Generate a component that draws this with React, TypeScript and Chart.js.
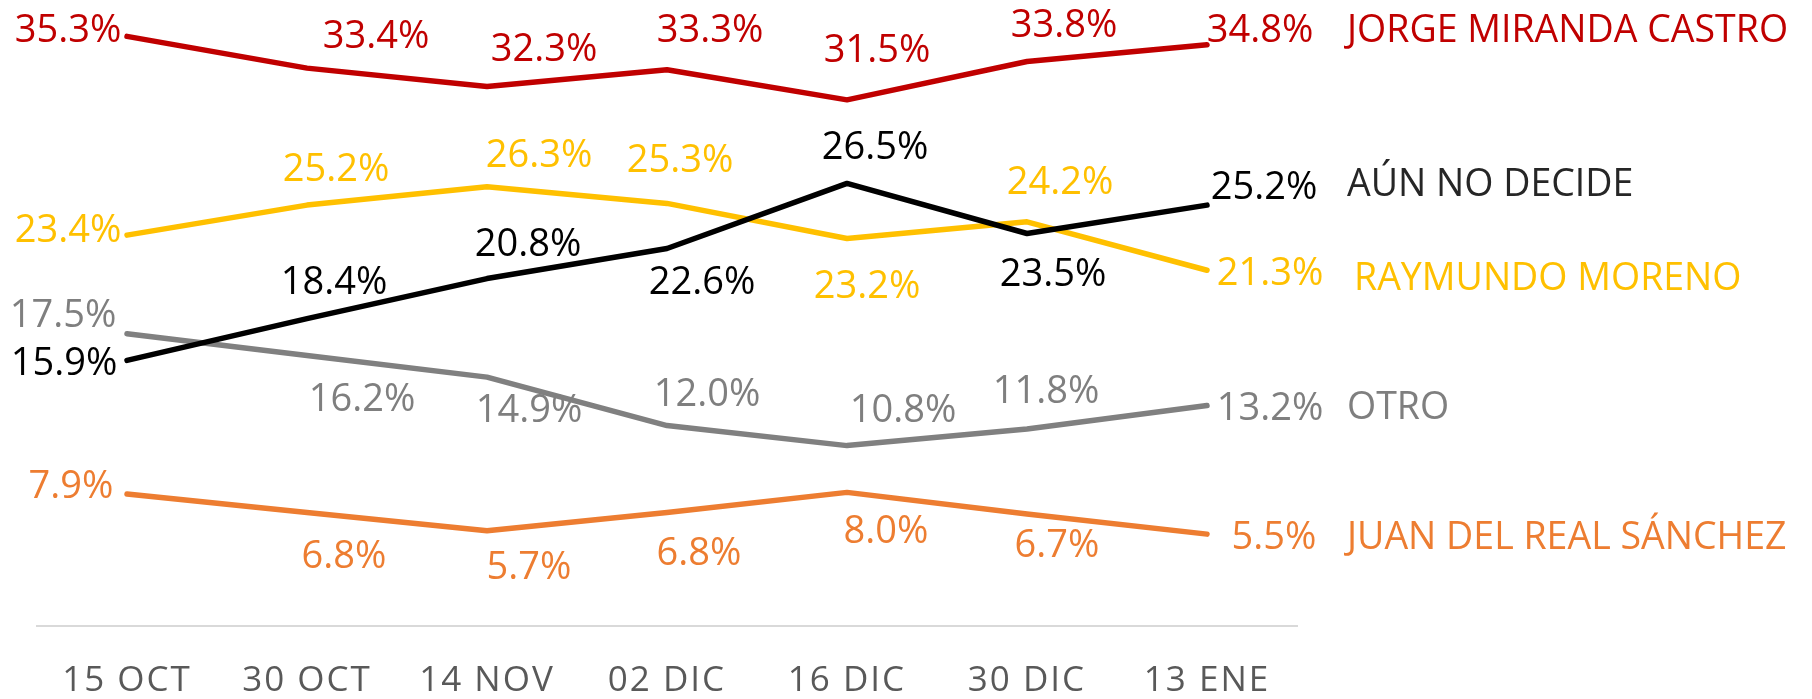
import React, { useEffect, useRef } from "react";
import { Chart, registerables } from "chart.js";

Chart.register(...registerables);

const categories = ["15 OCT", "30 OCT", "14 NOV", "02 DIC", "16 DIC", "30 DIC", "13 ENE"];
const seriesNames = ["AÚN NO DECIDE", "JORGE MIRANDA CASTRO", "RAYMUNDO MORENO", "OTRO", "JUAN DEL REAL SÁNCHEZ"];
const aunNoDecide = [15.9, 18.4, 20.8, 22.6, 26.5, 23.5, 25.2];
const jorge = [35.3, 33.4, 32.3, 33.3, 31.5, 33.8, 34.8];
const raymundo = [23.4, 25.2, 26.3, 25.3, 23.2, 24.2, 21.3];
const otro = [17.5, 16.2, 14.9, 12.0, 10.8, 11.8, 13.2];
const juan = [7.9, 6.8, 5.7, 6.8, 8.0, 6.7, 5.5];

// styling
const lineColors = ["#000000", "#C00000", "#FFC000", "#808080", "#ED7D31"];
const labelColors = ["#000000", "#C00000", "#FFC000", "#7F7F7F", "#ED7D31"];
const nameColors = ["#262626", "#C00000", "#FFC000", "#7F7F7F", "#ED7D31"];
// label centre offsets relative to each point (px)
const labelOffsets: number[][][] = [
  [[-63, 1], [27, -38], [41, -36], [35, 32], [28, -38], [26, 39], [57, -20]],
  [[-59, -8], [69, -34], [57, -39], [43, -41], [30, -51], [37, -38], [53, -16]],
  [[-59, -7], [29, -38], [52, -33], [13, -45], [20, 46], [33, -41], [63, 1]],
  [[-64, -20], [55, 42], [42, 31], [40, -33], [56, -37], [19, -39], [63, 1]],
  [[-56, -10], [37, 42], [42, 35], [32, 39], [39, 37], [30, 29], [67, 1]],
];
const nameOffsets = [[140, -22], [140, -16], [147, 6], [140, 0], [140, 1]];

const FONT = "'Open Sans', sans-serif";
const CAP = 0.714;

export default function App() {
  const ref = useRef<HTMLCanvasElement>(null);
  useEffect(() => {
    const canvas = ref.current;
    if (!canvas) return;
    const series = [aunNoDecide, jorge, raymundo, otro, juan];
    const labelPlugin = {
      id: "labels",
      beforeDraw(chart: any) {
        (chart.ctx as any).letterSpacing = "2px";
      },
      beforeDatasetsDraw(chart: any) {
        (chart.ctx as any).letterSpacing = "0px";
      },
      afterDatasetsDraw(chart: any) {
        const ctx = chart.ctx;
        ctx.save();
        chart.data.datasets.forEach((ds: any, i: number) => {
          const meta = chart.getDatasetMeta(i);
          const size = 38;
          ctx.font = `400 ${size}px ${FONT}`;
          ctx.textAlign = "center";
          ctx.textBaseline = "alphabetic";
          ctx.fillStyle = labelColors[i];
          meta.data.forEach((el: any, j: number) => {
            const [dx, dy] = labelOffsets[i][j];
            ctx.fillText(ds.data[j].toFixed(1) + "%", el.x + dx, el.y + dy + size * CAP / 2);
          });
          const last = meta.data[meta.data.length - 1];
          const nsize = 37.5;
          ctx.font = `400 ${nsize}px ${FONT}`;
          ctx.textAlign = "left";
          ctx.fillStyle = nameColors[i];
          ctx.fillText(seriesNames[i], last.x + nameOffsets[i][0], last.y + nameOffsets[i][1] + nsize * CAP / 2);
        });
        ctx.restore();
      },
    };
    const chart = new Chart(canvas, {
      type: "line",
      data: {
        labels: categories,
        datasets: series.map((d, i) => ({
          label: seriesNames[i],
          data: d,
          borderColor: lineColors[i],
          backgroundColor: lineColors[i],
          borderWidth: 5.5,
          borderCapStyle: "round" as const,
          borderJoinStyle: "round" as const,
          pointRadius: 0,
          tension: 0,
          clip: false as any,
        })),
      },
      options: {
        animation: false,
        responsive: false,
        devicePixelRatio: 1,
        layout: { padding: { left: 37, right: 515, top: 8, bottom: 0 } },
        plugins: { legend: { display: false }, tooltip: { enabled: false } },
        scales: {
          x: {
            type: "category",
            offset: true,
            grid: { display: false, drawTicks: false },
            border: { display: true, color: "#D9D9D9", width: 2 },
            ticks: {
              color: "#595959",
              font: { family: FONT, size: 35 },
              padding: 34,
              maxRotation: 0,
              autoSkip: false,
            },
            afterFit: (scale: any) => {
              scale.height = 73;
            },
          },
          y: { display: false, min: 0, max: 37 },
        },
      },
      plugins: [labelPlugin],
    });
    return () => chart.destroy();
  }, []);
  return (
    <div style={{ position: "fixed", left: 0, top: 0, width: 1812, height: 699, background: "#fff" }}>
      <canvas ref={ref} width={1812} height={699} style={{ width: 1812, height: 699, display: "block" }} />
    </div>
  );
}
